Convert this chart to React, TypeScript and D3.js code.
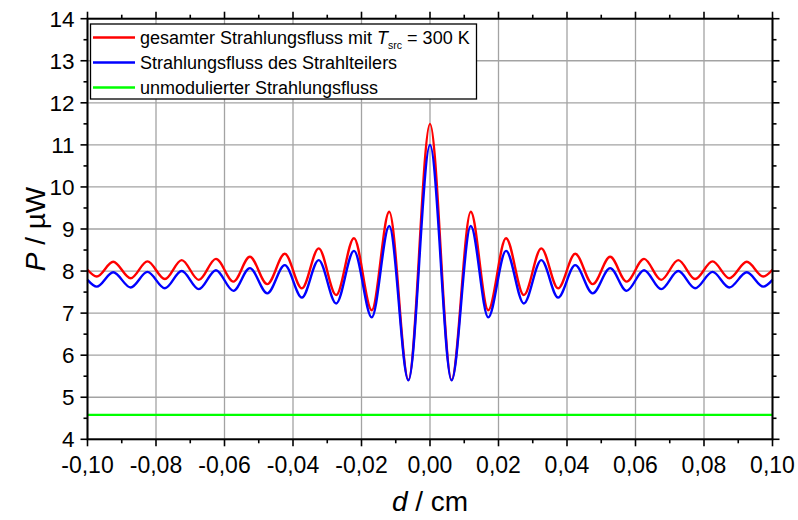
import React from "react";
import * as d3 from "d3";

// Mirror displacement d (cm) at each extremum of the interferogram
const displacement = [
  -0.1, -0.0973, -0.0925, -0.0874, -0.0825, -0.0774, -0.0725, -0.0675, -0.0625, -0.0574,
  -0.0526, -0.0475, -0.0424, -0.0374, -0.0325, -0.0274, -0.0222, -0.017, -0.0119, -0.0063,
  0,
  0.0063, 0.0119, 0.017, 0.0222, 0.0274, 0.0325, 0.0374, 0.0424, 0.0475, 0.0526,
  0.0574, 0.0625, 0.0675, 0.0725, 0.0774, 0.0825, 0.0874, 0.0925, 0.0973, 0.1,
];

// Total radiant flux with T_src = 300 K (µW)
const totalFlux = [
  8.03, 7.87, 8.22, 7.83, 8.23, 7.81, 8.26, 7.79, 8.29, 7.75,
  8.34, 7.69, 8.41, 7.59, 8.54, 7.43, 8.78, 7.07, 9.41, 5.41,
  11.5,
  5.41, 9.41, 7.07, 8.78, 7.43, 8.54, 7.59, 8.41, 7.69, 8.34,
  7.75, 8.29, 7.79, 8.26, 7.81, 8.23, 7.83, 8.22, 7.87, 8.03,
];

// Radiant flux of the beam splitter (µW)
const splitterFlux = [
  7.79, 7.63, 7.97, 7.61, 7.98, 7.59, 8.0, 7.57, 8.02, 7.53,
  8.07, 7.47, 8.14, 7.37, 8.26, 7.23, 8.48, 6.9, 9.07, 5.4,
  11.0,
  5.4, 9.07, 6.9, 8.48, 7.23, 8.26, 7.37, 8.14, 7.47, 8.07,
  7.53, 8.02, 7.57, 8.0, 7.59, 7.98, 7.61, 7.97, 7.63, 7.79,
];

// Unmodulated radiant flux (µW), constant over d
const unmodulatedFlux = [4.58, 4.58];
const unmodulatedRange = [-0.1, 0.1];

const xTickValues = [-0.1, -0.08, -0.06, -0.04, -0.02, 0, 0.02, 0.04, 0.06, 0.08, 0.1];
const xMinorValues = [-0.09, -0.07, -0.05, -0.03, -0.01, 0.01, 0.03, 0.05, 0.07, 0.09];
const yTickValues = [4, 5, 6, 7, 8, 9, 10, 11, 12, 13, 14];
const yMinorValues = [4.5, 5.5, 6.5, 7.5, 8.5, 9.5, 10.5, 11.5, 12.5, 13.5];

const W = 798;
const H = 520;
const left = 87.5;
const right = 772.5;
const top = 18.7;
const bottom = 439.3;

const FONT = "'Liberation Sans', Arial, sans-serif";

export default function App() {
  const x = d3.scaleLinear().domain([-0.1, 0.1]).range([left, right]);
  const y = d3.scaleLinear().domain([4, 14]).range([bottom, top]);

  const line = d3
    .line<[number, number]>()
    .x((p) => x(p[0]))
    .y((p) => y(p[1]))
    .curve(d3.curveMonotoneX);

  const redPath = line(displacement.map((d, i) => [d, totalFlux[i]] as [number, number])) || "";
  const bluePath = line(displacement.map((d, i) => [d, splitterFlux[i]] as [number, number])) || "";
  const greenPath =
    d3
      .line<[number, number]>()
      .x((p) => x(p[0]))
      .y((p) => y(p[1]))(unmodulatedRange.map((d, i) => [d, unmodulatedFlux[i]] as [number, number])) || "";

  const fmt = (v: number) => d3.format(".2f")(v).replace(".", ",").replace("−", "-");

  const major = 7;
  const minor = 4;
  const gridColor = "#a3a3a3";

  const legendItems = [
    { color: "#ff0000", key: "total" },
    { color: "#0000ff", key: "splitter" },
    { color: "#00ff00", key: "unmod" },
  ];

  return (
    <svg
      width={W}
      height={H}
      style={{ position: "fixed", left: 0, top: 0, background: "#fff" }}
      fontFamily={FONT}
    >
      <rect x={0} y={0} width={W} height={H} fill="#fff" />

      {/* grid */}
      {xTickValues.map((v) => (
        <line key={"gx" + v} x1={x(v)} x2={x(v)} y1={top} y2={bottom} stroke={gridColor} strokeWidth={1.3} />
      ))}
      {yTickValues.map((v) => (
        <line key={"gy" + v} x1={left} x2={right} y1={y(v)} y2={y(v)} stroke={gridColor} strokeWidth={1.3} />
      ))}

      {/* curves */}
      <path d={greenPath} fill="none" stroke="#00ff00" strokeWidth={2.4} />
      <path d={redPath} fill="none" stroke="#ff0000" strokeWidth={2.4} />
      <path d={bluePath} fill="none" stroke="#0000ff" strokeWidth={2.4} />

      {/* frame */}
      <rect x={left} y={top} width={right - left} height={bottom - top} fill="none" stroke="#000" strokeWidth={2} />

      {/* x ticks, bottom and top */}
      {xTickValues.map((v) => (
        <g key={"xt" + v}>
          <line x1={x(v)} x2={x(v)} y1={bottom} y2={bottom + major} stroke="#000" strokeWidth={1.6} />
          <line x1={x(v)} x2={x(v)} y1={top} y2={top - major} stroke="#000" strokeWidth={1.6} />
          <text x={x(v)} y={bottom + 34} textAnchor="middle" fontSize={23} fill="#000">
            {fmt(v)}
          </text>
        </g>
      ))}
      {xMinorValues.map((v) => (
        <g key={"xm" + v}>
          <line x1={x(v)} x2={x(v)} y1={bottom} y2={bottom + minor} stroke="#000" strokeWidth={1.6} />
          <line x1={x(v)} x2={x(v)} y1={top} y2={top - minor} stroke="#000" strokeWidth={1.6} />
        </g>
      ))}

      {/* y ticks, left and right */}
      {yTickValues.map((v) => (
        <g key={"yt" + v}>
          <line x1={left} x2={left - major} y1={y(v)} y2={y(v)} stroke="#000" strokeWidth={1.6} />
          <line x1={right} x2={right + major} y1={y(v)} y2={y(v)} stroke="#000" strokeWidth={1.6} />
          <text x={left - 13} y={y(v) + 8} textAnchor="end" fontSize={22.5} fill="#000">
            {v}
          </text>
        </g>
      ))}
      {yMinorValues.map((v) => (
        <g key={"ym" + v}>
          <line x1={left} x2={left - minor} y1={y(v)} y2={y(v)} stroke="#000" strokeWidth={1.6} />
          <line x1={right} x2={right + minor} y1={y(v)} y2={y(v)} stroke="#000" strokeWidth={1.6} />
        </g>
      ))}

      {/* axis titles */}
      <text x={(left + right) / 2} y={511} textAnchor="middle" fontSize={28} fill="#000">
        <tspan fontStyle="italic">d</tspan>
        <tspan> / cm</tspan>
      </text>
      <text
        transform={`translate(45, ${(top + bottom) / 2}) rotate(-90)`}
        textAnchor="middle"
        fontSize={28}
        fill="#000"
      >
        <tspan fontStyle="italic">P</tspan>
        <tspan> / µW</tspan>
      </text>

      {/* legend */}
      <rect x={90.5} y={24} width={386} height={75} fill="#fff" stroke="#000" strokeWidth={1.3} />
      {legendItems.map((item, i) => (
        <line
          key={item.key}
          x1={93}
          x2={135}
          y1={37.5 + i * 25}
          y2={37.5 + i * 25}
          stroke={item.color}
          strokeWidth={2.4}
        />
      ))}
      <text x={140} y={44} fontSize={18} fill="#000">
        gesamter Strahlungsfluss mit{" "}
        <tspan fontStyle="italic">T</tspan>
        <tspan fontSize={10.5} dy={5}>src</tspan>
        <tspan dy={-5}> = 300 K</tspan>
      </text>
      <text x={140} y={69} fontSize={18} fill="#000">
        Strahlungsfluss des Strahlteilers
      </text>
      <text x={140} y={94} fontSize={18} fill="#000">
        unmodulierter Strahlungsfluss
      </text>
    </svg>
  );
}
